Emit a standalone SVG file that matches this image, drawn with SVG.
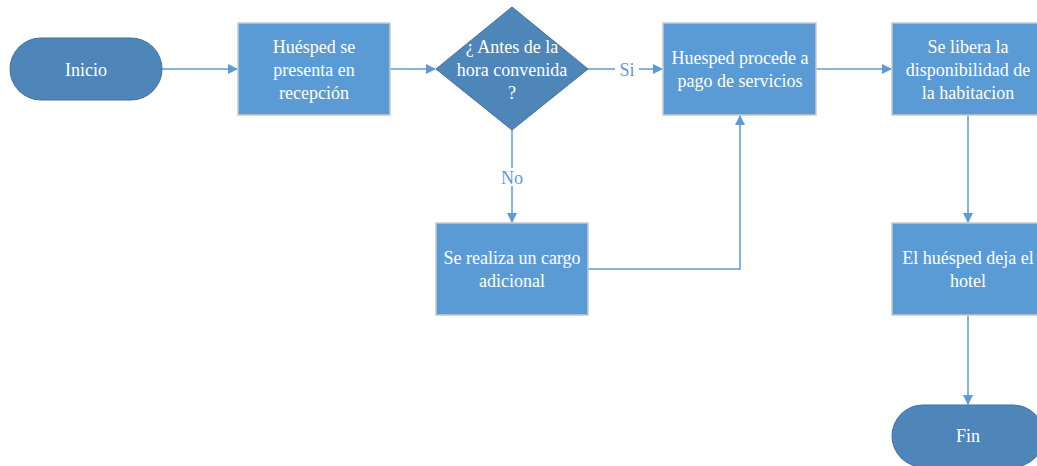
<svg xmlns="http://www.w3.org/2000/svg" width="1037" height="466" viewBox="0 0 1037 466">
<defs>
<style>
.box{fill:#5b9bd5;stroke:#c9c9c9;stroke-width:1.5}
.term{fill:#4e86b9;stroke:#41719c;stroke-width:1}
.dec{fill:#4e86b9;stroke:#41719c;stroke-width:1}
.t{font-family:"Liberation Serif","Times New Roman",serif;font-size:18px;fill:#ffffff;text-anchor:middle}
.lbl{font-family:"Liberation Serif","Times New Roman",serif;font-size:18px;fill:#5b9bd5;text-anchor:middle}
.c{fill:none;stroke:#5b9bd5;stroke-width:1.5}
</style>
<marker id="ah" markerWidth="10" markerHeight="10" refX="9" refY="5" orient="auto" markerUnits="userSpaceOnUse">
<path d="M0,0 L10,5 L0,10 Z" fill="#5b9bd5"/>
</marker>
</defs>
<rect width="1037" height="466" fill="#ffffff"/>
<g id="connectors">
<line class="c" x1="162" y1="69" x2="237" y2="69" marker-end="url(#ah)"/>
<line class="c" x1="390" y1="69" x2="435" y2="69" marker-end="url(#ah)"/>
<line class="c" x1="588" y1="69" x2="662" y2="69" marker-end="url(#ah)"/>
<line class="c" x1="816" y1="69" x2="891" y2="69" marker-end="url(#ah)"/>
<line class="c" x1="512" y1="130" x2="512" y2="222" marker-end="url(#ah)"/>
<polyline class="c" points="588,269 740,269 740,116" marker-end="url(#ah)"/>
<line class="c" x1="968" y1="115" x2="968" y2="222" marker-end="url(#ah)"/>
<line class="c" x1="968" y1="315" x2="968" y2="404" marker-end="url(#ah)"/>
<rect x="615" y="60" width="24" height="18" fill="#ffffff"/>
<text class="lbl" x="627" y="76">Si</text>
<rect x="498" y="168" width="28" height="18" fill="#ffffff"/>
<text class="lbl" x="512" y="184">No</text>
</g>
<g id="inicio">
<rect class="term" x="10" y="38" width="152" height="62" rx="31" ry="31"/>
<text class="t" x="86" y="76">Inicio</text>
</g>
<g id="presenta">
<rect class="box" x="238" y="23" width="152" height="92"/>
<text class="t" x="314" y="53">Huésped se</text>
<text class="t" x="314" y="76">presenta en</text>
<text class="t" x="314" y="99">recepción</text>
</g>
<g id="decision">
<polygon class="dec" points="512,7 588,69 512,130 436,69"/>
<text class="t" x="512" y="53">¿ Antes de la</text>
<text class="t" x="512" y="76">hora convenida</text>
<text class="t" x="512" y="99">?</text>
</g>
<g id="pago">
<rect class="box" x="663" y="23" width="153" height="92"/>
<text class="t" x="740" y="64">Huesped procede a</text>
<text class="t" x="740" y="87">pago de servicios</text>
</g>
<g id="libera">
<rect class="box" x="892" y="23" width="152" height="92"/>
<text class="t" x="968" y="53">Se libera la</text>
<text class="t" x="968" y="76">disponibilidad de</text>
<text class="t" x="968" y="99">la habitacion</text>
</g>
<g id="cargo">
<rect class="box" x="436" y="223" width="152" height="92"/>
<text class="t" x="512" y="264">Se realiza un cargo</text>
<text class="t" x="512" y="287">adicional</text>
</g>
<g id="deja">
<rect class="box" x="892" y="223" width="152" height="92"/>
<text class="t" x="968" y="264">El huésped deja el</text>
<text class="t" x="968" y="287">hotel</text>
</g>
<g id="fin">
<rect class="term" x="892" y="405" width="152" height="62" rx="31" ry="31"/>
<text class="t" x="968" y="442">Fin</text>
</g>
</svg>
